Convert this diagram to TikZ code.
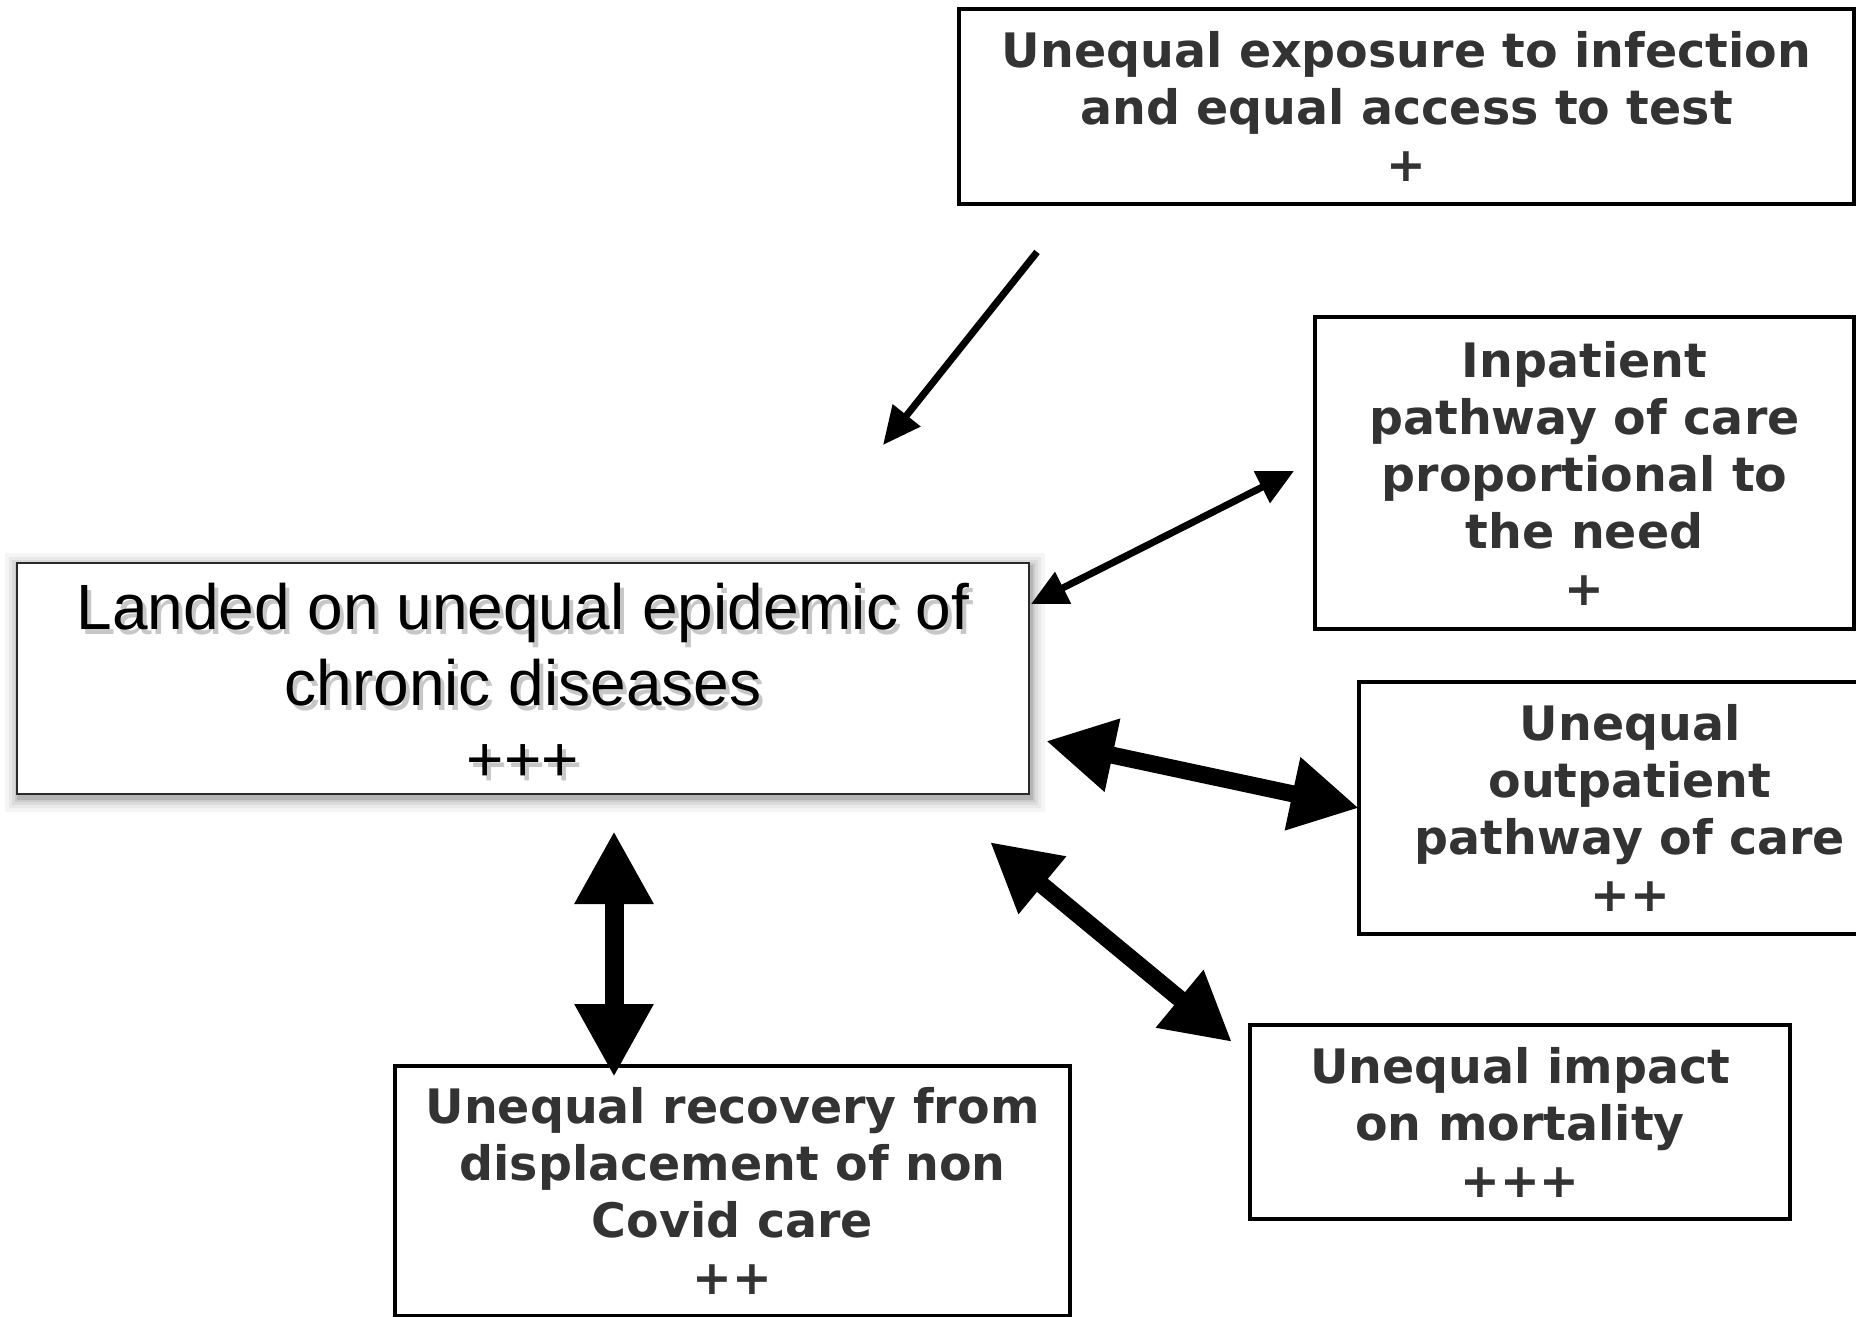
\documentclass[tikz,border=0pt]{standalone}
\usepackage{fontspec}
\setmainfont{DejaVu Sans}
\newfontfamily\helv{Liberation Sans}
\usetikzlibrary{arrows.meta}
\definecolor{ink}{HTML}{333333}
\definecolor{frame}{HTML}{2A2A2A}

\tikzset{
  factor/.style={draw=black, line width=4pt, fill=white, text=ink,
    font=\bfseries\fontsize{47.5}{57}\selectfont, align=center, inner sep=0pt},
  hub/.style={draw=frame, line width=2pt, fill=white, inner sep=0pt},
  hubtext/.style={font=\helv\fontsize{64}{76}\selectfont, align=center, inner sep=0pt},
  thin link/.style={line width=7pt, -{Triangle[length=38pt,width=34pt]}},
  thin pair/.style={line width=7pt, {Triangle[length=36pt,width=34pt]}-{Triangle[length=36pt,width=34pt]}},
  bold pair/.style={line width=17pt, {Triangle[length=68pt,width=70pt]}-{Triangle[length=68pt,width=70pt]}},
}

\begin{document}
\begin{tikzpicture}[x=1pt,y=-1pt]
  \useasboundingbox (0,0) rectangle (1856,1317);
  \clip (0,0) rectangle (1856,1317);

  % soft shadow behind the central box
  \foreach \g/\o in {14/0.04,10/0.05,7/0.06,4/0.08,2/0.10}
    \fill[black, opacity=\o] (17-\g+2,563-\g+4) rectangle (1029+\g+2,794+\g+4);

  % central box with its shadowed caption
  \node[hub, minimum width=1012pt, minimum height=231pt] (hub) at (523,678.5) {};
  \node[hubtext, text=black, opacity=0.22] (hubshade) at (527,687)
      {Landed on unequal epidemic of\\chronic diseases\\+++};
  \node[hubtext, text=black] (hubtxt) at (523,682)
      {Landed on unequal epidemic of\\chronic diseases\\+++};

  % surrounding factors
  \node[factor, minimum width=895pt, minimum height=195pt] (expo) at (1406.5,106.5)
    {Unequal exposure to infection\\and equal access to test\\+};
  \node[factor, minimum width=539pt, minimum height=312pt] (inpat) at (1584.5,473)
    {Inpatient\\pathway of care\\proportional to\\the need\\+};
  \node[factor, minimum width=542pt, minimum height=252pt] (outpat) at (1630,808)
    {Unequal\\outpatient\\pathway of care\\++};
  \node[factor, minimum width=540pt, minimum height=194pt] (mort) at (1520,1122)
    {Unequal impact\\on mortality\\+++};
  \node[factor, minimum width=675pt, minimum height=250pt] (recov) at (732.5,1191)
    {Unequal recovery from\\displacement of non\\Covid care\\++};

  % connector end points
  \coordinate (expoE) at (1037,252);
  \coordinate (hubE)  at (883,445);
  \coordinate (hubI)  at (1031,604);
  \coordinate (inpatE) at (1294,471);
  \coordinate (hubO)  at (1046,741);
  \coordinate (outpatE) at (1359,808);
  \coordinate (hubM)  at (990,842);
  \coordinate (mortE) at (1232,1042);
  \coordinate (hubR)  at (614,831);
  \coordinate (recovE) at (614,1077);

  % connectors
  \draw[thin link] (expoE) -- (hubE);
  \draw[thin pair] (hubI) -- (inpatE);
  \draw[bold pair] (hubO) -- (outpatE);
  \draw[bold pair] (hubM) -- (mortE);
  \draw[line width=19pt, {Triangle[length=73pt,width=74pt]}-{Triangle[length=73pt,width=74pt]}] (hubR) -- (recovE);
\end{tikzpicture}
\end{document}
